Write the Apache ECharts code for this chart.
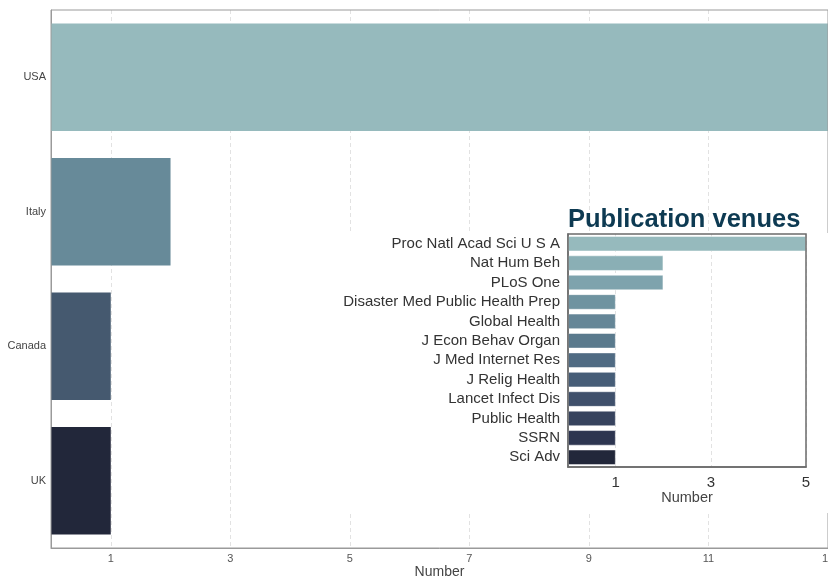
<!DOCTYPE html>
<html>
<head>
<meta charset="utf-8">
<script src="https://cdn.jsdelivr.net/npm/echarts@6/dist/echarts.min.js"></script>
<style>html,body{margin:0;padding:0;background:#fff}#c{width:828px;height:580px}</style>
</head>
<body>
<div id="c"></div>
<script>
// Main chart data
const countries = ['USA', 'Italy', 'Canada', 'UK'];
const countryCounts = [13, 2, 1, 1];
const countryColors = ['#96babd', '#678a99', '#45596f', '#22273a'];
const mainTicks = [1, 3, 5, 7, 9, 11, 13];

// Inset data
const venues = ['Proc Natl Acad Sci U S A', 'Nat Hum Beh', 'PLoS One', 'Disaster Med Public Health Prep',
  'Global Health', 'J Econ Behav Organ', 'J Med Internet Res', 'J Relig Health', 'Lancet Infect Dis',
  'Public Health', 'SSRN', 'Sci Adv'];
const venueCounts = [5, 2, 2, 1, 1, 1, 1, 1, 1, 1, 1, 1];
const venueColors = ['#96babd', '#8aafb5', '#7ea3ad', '#6f93a0', '#658697', '#5a7a8d',
  '#506b83', '#465d77', '#3f506b', '#37435e', '#2d3550', '#22273a'];
const insetTicks = [1, 3, 5];

const FONT = 'Liberation Sans, Arial, Helvetica, sans-serif';
const chart = echarts.init(document.getElementById('c'), null, {renderer: 'canvas'});

chart.setOption({
  animation: false,
  textStyle: {fontFamily: FONT},
  title: {
    text: 'Publication venues', left: 563, top: 202, z: 14,
    textStyle: {fontSize: 25.5, fontWeight: 'bold', color: '#0d3a52', fontFamily: FONT}
  },
  graphic: [{
    type: 'rect', z: 5, silent: true,
    shape: {x: 334, y: 233, width: 494, height: 280},
    style: {fill: '#ffffff'}
  }],
  grid: [
    {left: 51, top: 10, right: 0, bottom: 32, outerBoundsMode: 'none', containLabel: false, show: true, borderColor: '#9a9a9a', borderWidth: 1, backgroundColor: 'transparent', z: 3},
    {left: 568, top: 234, width: 238, height: 233, outerBoundsMode: 'none', containLabel: false, show: true, borderColor: '#6b6b6b', borderWidth: 1.5, backgroundColor: 'transparent', z: 13}
  ],
  xAxis: [
    {
      type: 'value', gridIndex: 0, min: 0, max: 13, z: 1,
      name: 'Number', nameLocation: 'middle', nameGap: 17, nameMoveOverlap: false,
      nameTextStyle: {fontSize: 14, color: '#444', fontFamily: FONT},
      axisLine: {show: true, lineStyle: {color: '#9a9a9a'}},
      axisTick: {show: false, customValues: mainTicks},
      axisLabel: {customValues: mainTicks, fontSize: 11, color: '#555', margin: 5},
      splitLine: {show: true, lineStyle: {type: [4, 3], color: '#e2e2e2', width: 1}}
    },
    {
      type: 'value', gridIndex: 1, min: 0, max: 5, z: 11,
      name: 'Number', nameLocation: 'middle', nameGap: 23,
      nameTextStyle: {fontSize: 14.5, color: '#444', fontFamily: FONT},
      axisLine: {show: true, lineStyle: {color: '#6b6b6b', width: 1.5}},
      axisTick: {show: false, customValues: insetTicks},
      axisLabel: {customValues: insetTicks, fontSize: 15, color: '#333', margin: 8},
      splitLine: {show: true, lineStyle: {type: [4, 3], color: '#e2e2e2', width: 1}}
    }
  ],
  yAxis: [
    {
      type: 'category', gridIndex: 0, data: countries, inverse: true, z: 1,
      axisLine: {show: true, lineStyle: {color: '#9a9a9a'}},
      axisTick: {show: false},
      axisLabel: {fontSize: 11, color: '#444', margin: 5, interval: 0},
      splitLine: {show: false}
    },
    {
      type: 'category', gridIndex: 1, data: venues, inverse: true, z: 11,
      axisLine: {show: true, lineStyle: {color: '#6b6b6b', width: 1.5}},
      axisTick: {show: false},
      axisLabel: {fontSize: 15, color: '#333', margin: 8, interval: 0},
      splitLine: {show: false}
    }
  ],
  series: [
    {
      type: 'bar', xAxisIndex: 0, yAxisIndex: 0, barCategoryGap: '20%', z: 2,
      data: countryCounts.map((v, i) => ({value: v, itemStyle: {color: countryColors[i]}}))
    },
    {
      type: 'bar', xAxisIndex: 1, yAxisIndex: 1, barCategoryGap: '22%', z: 12,
      data: venueCounts.map((v, i) => ({value: v, itemStyle: {color: venueColors[i], borderColor: '#ffffff', borderWidth: 0.5}}))
    }
  ]
});
</script>
</body>
</html>
